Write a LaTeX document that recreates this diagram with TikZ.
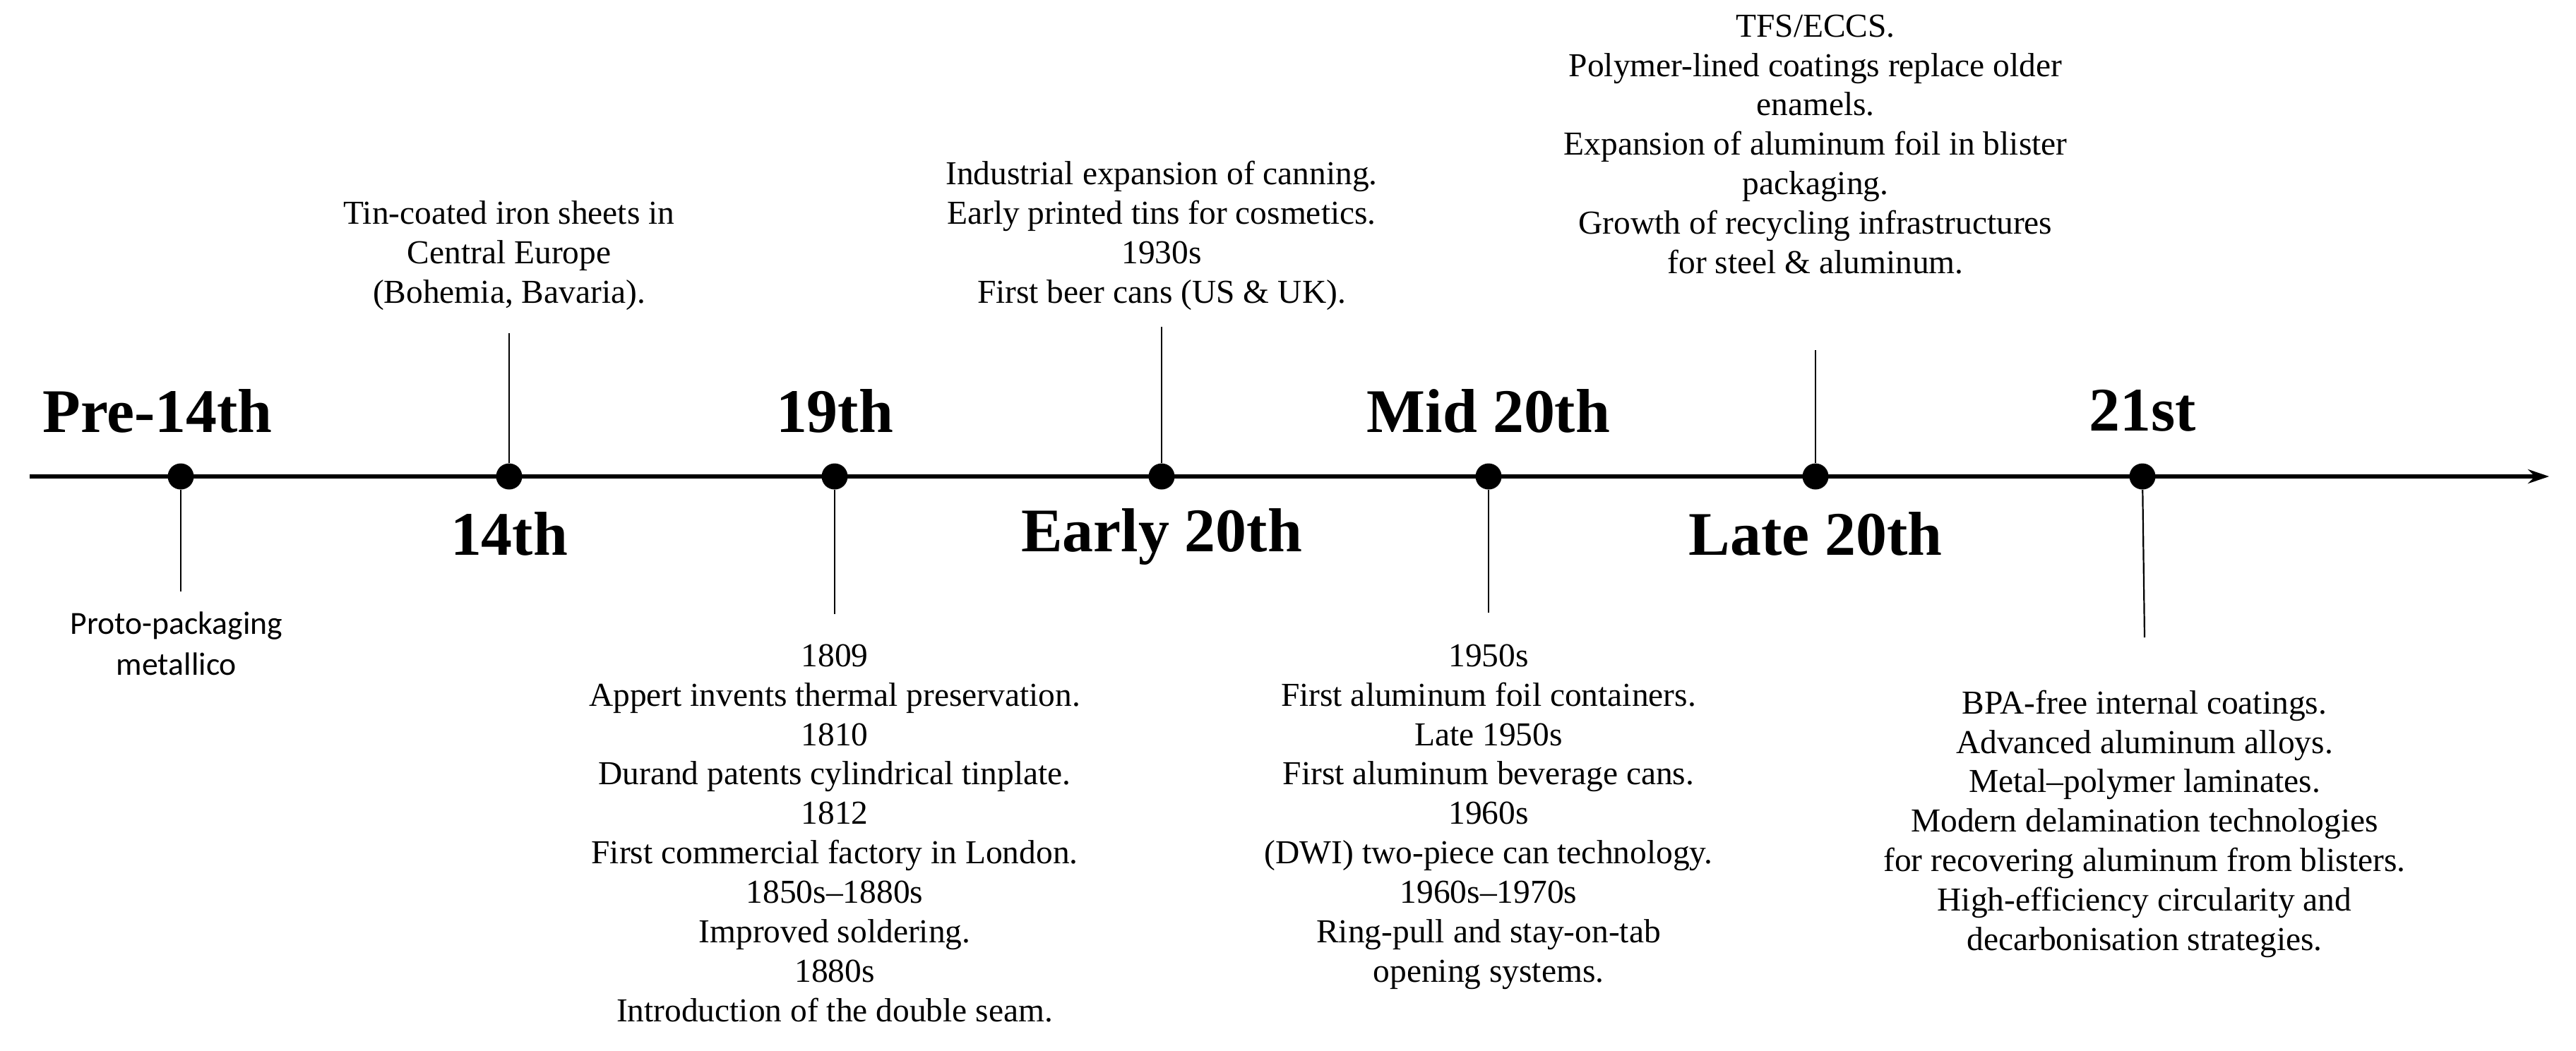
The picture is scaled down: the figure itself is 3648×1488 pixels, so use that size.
\documentclass[tikz,border=0pt]{standalone}
\usepackage{fontspec}
\setmainfont{Liberation Serif}
\newfontfamily\calib{Carlito}
\usetikzlibrary{arrows.meta}
\begin{document}
\begin{tikzpicture}[x=0.1mm,y=-0.1mm,
  dotnode/.style={circle,fill=black,inner sep=0pt,minimum size=3.7mm},
  era/.style={font=\fontsize{25}{28}\selectfont\bfseries},
  desc/.style={align=center,font=\fontsize{13.5}{15.9}\selectfont,inner sep=0pt},
  tick/.style={line width=0.22mm}]
\useasboundingbox (0,0) rectangle (3648,1488);
\coordinate (L) at (42,675);
\coordinate (R) at (3610,675);
\draw[line width=0.65mm,-{Stealth[length=3mm,width=2mm]}] (L) -- (R);
\foreach \n/\x in {a/256,b/721,c/1182,d/1645,e/2108,f/2571,g/3034}{
  \node[dotnode] (\n) at (\x,675) {};}
% labels
\node[era] (la) at (223,582) {Pre-14th};
\node[era] (lb) at (721,756) {14th};
\node[era] (lc) at (1182,582) {19th};
\node[era] (ld) at (1645,760) {Early 20th};
\node[era] (le) at (2108,582) {Mid 20th};
\node[era] (lf) at (2571,756) {Late 20th};
\node[era] (lg) at (3034,582) {21st};
% ticks
\coordinate (ta) at (256,838);
\coordinate (tb) at (721,472);
\coordinate (tc) at (1182,870);
\coordinate (td) at (1645,463);
\coordinate (te) at (2108,868);
\coordinate (tf) at (2571,496);
\coordinate (tg) at (3037,903);
\foreach \n in {a,b,c,d,e,f,g}{\draw[tick] (\n) -- (t\n);}
% descriptions
\node[desc,font=\calib\fontsize{13}{16.5}\selectfont,anchor=north] (da) at (250,866) {Proto-packaging\\metallico};
\node[desc,anchor=south] (db) at (721,440) {Tin-coated iron sheets in\\Central Europe\\(Bohemia, Bavaria).};
\node[desc,anchor=north] (dc) at (1182,912) {1809\\Appert invents thermal preservation.\\1810\\Durand patents cylindrical tinplate.\\1812\\First commercial factory in London.\\1850s–1880s\\Improved soldering.\\1880s\\Introduction of the double seam.};
\node[desc,anchor=south] (dd) at (1645,440) {Industrial expansion of canning.\\Early printed tins for cosmetics.\\1930s\\First beer cans (US \& UK).};
\node[desc,anchor=north] (de) at (2108,912) {1950s\\First aluminum foil containers.\\Late 1950s\\First aluminum beverage cans.\\1960s\\(DWI) two-piece can technology.\\1960s–1970s\\Ring-pull and stay-on-tab\\opening systems.};
\node[desc,anchor=north] (df) at (2571,20) {TFS/ECCS.\\Polymer-lined coatings replace older\\enamels.\\Expansion of aluminum foil in blister\\packaging.\\Growth of recycling infrastructures\\for steel \& aluminum.};
\node[desc,anchor=north] (dg) at (3037,977) {BPA-free internal coatings.\\Advanced aluminum alloys.\\Metal–polymer laminates.\\Modern delamination technologies\\for recovering aluminum from blisters.\\High-efficiency circularity and\\decarbonisation strategies.};
\end{tikzpicture}
\end{document}
